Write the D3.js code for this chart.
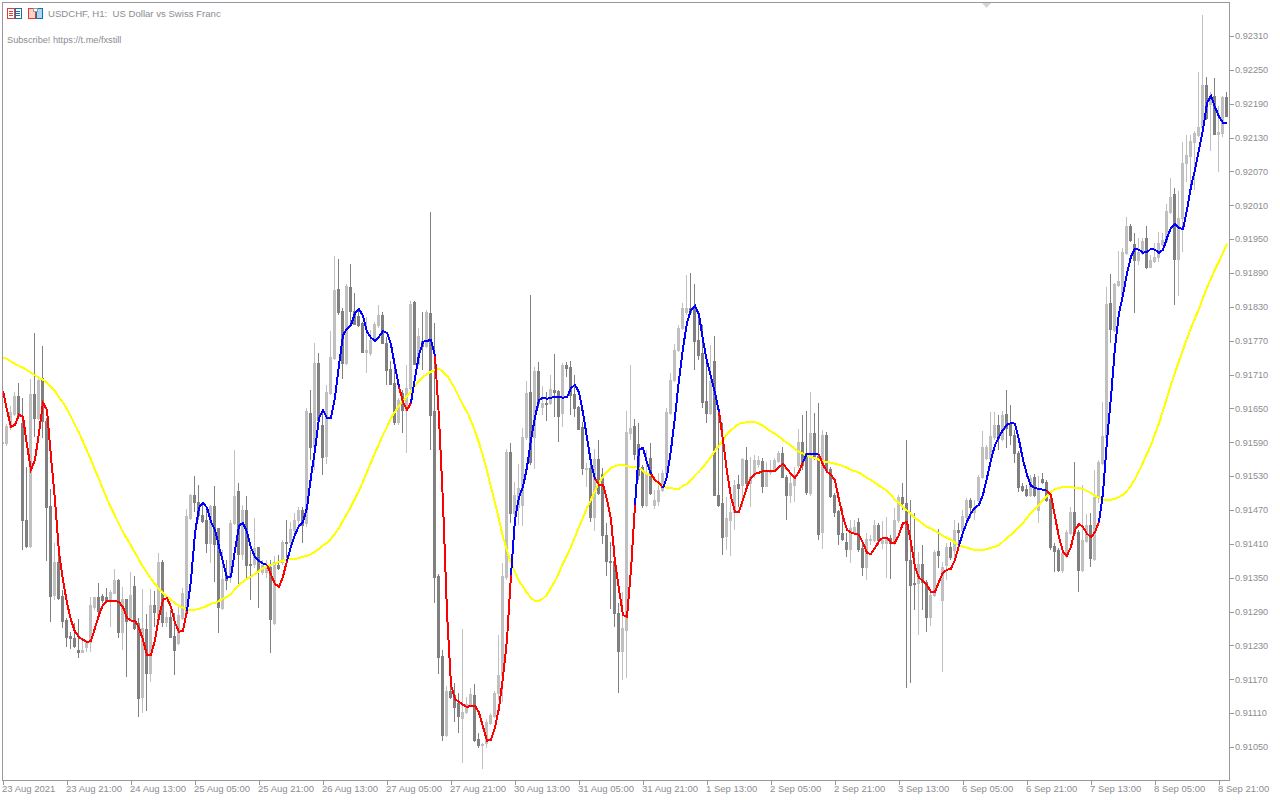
<!DOCTYPE html>
<html>
<head>
<meta charset="utf-8">
<title>USDCHF H1</title>
<script src="https://cdn.jsdelivr.net/npm/d3@7"></script>
<style>
html,body{margin:0;padding:0;background:#fff;overflow:hidden}
svg{display:block}
text{font-family:"Liberation Sans",Arial,sans-serif;fill:#8c8c92}
</style>
</head>
<body>
<svg id="chart" width="1280" height="800"></svg>
<script>
// All prices are in pipettes (1e-5 CHF): 91650 = 0.91650
const titleText = "USDCHF, H1:  US Dollar vs Swiss Franc";
const noteText = "Subscribe! https://t.me/fxstill";
const timeLabels = ["23 Aug 2021","23 Aug 21:00","24 Aug 13:00","25 Aug 05:00","25 Aug 21:00","26 Aug 13:00","27 Aug 05:00","27 Aug 21:00","30 Aug 13:00","31 Aug 05:00","31 Aug 21:00","1 Sep 13:00","2 Sep 05:00","2 Sep 21:00","3 Sep 13:00","6 Sep 05:00","6 Sep 21:00","7 Sep 13:00","8 Sep 05:00","8 Sep 21:00"];
const barsPerTimeLabel = 16;
const priceTicks = [91050,91110,91170,91230,91290,91350,91410,91470,91530,91590,91650,91710,91770,91830,91890,91950,92010,92070,92130,92190,92250,92310];

const opens = [
91589,91589,91617,91640,91672,91624,91453,91407,91676,91633,
91704,91628,91477,91320,91378,91318,91275,91247,91243,91222,
91219,91228,91236,91298,91316,91318,91316,91313,91323,91346,
91254,91313,91275,91336,91270,91139,91259,91181,91302,91281,
91378,91272,91281,91247,91235,91279,91290,91456,91497,91484,
91461,91453,91412,91477,91438,91297,91355,91352,91447,91504,
91392,91470,91375,91375,91405,91360,91360,91369,91270,91373,
91378,91414,91414,91435,91453,91470,91447,91642,91584,91731,
91621,91566,91678,91740,91862,91823,91731,91865,91823,91814,
91802,91750,91748,91771,91798,91816,91766,91720,91695,91626,
91678,91647,91686,91839,91729,91770,91761,91819,91646,91353,
91212,91072,91150,91142,91128,91102,91112,91123,91142,91064,
91054,91057,91093,91105,91146,91178,91352,91573,91465,91476,
91479,91600,91679,91600,91717,91653,91660,91660,91683,91681,
91642,91727,91724,91676,91653,91617,91543,91545,91458,91561,
91534,91426,91380,91380,91288,91220,91258,91607,91619,91587,
91546,91479,91562,91479,91486,91506,91536,91642,91701,91754,
91793,91821,91828,91830,91771,91748,91663,91642,91734,91497,
91483,91424,91453,91467,91516,91515,91559,91518,91536,91552,
91557,91513,91538,91541,91557,91571,91529,91497,91515,91550,
91591,91571,91500,91607,91566,91431,91603,91543,91497,91468,
91430,91414,91401,91431,91449,91403,91369,91417,91417,91444,
91412,91412,91421,91412,91453,91493,91483,91382,91341,91341,
91375,91343,91281,91320,91398,91311,91373,91405,91399,91435,
91435,91458,91488,91467,91488,91529,91562,91562,91600,91621,
91596,91640,91624,91603,91571,91513,91507,91497,91529,91470,
91525,91520,91490,91407,91399,91364,91389,91429,91467,91431,
91364,91415,91444,91383,91493,91554,91600,91837,91789,91869,
91851,91926,91974,91942,91913,91926,91952,91901,91911,91919,
91942,91947,91998,92030,91915,91988,92085,92098,92122,92135,
92149,92223,92190,92204,92137,92138,92202];

const highs = [
91594,91623,91655,91679,91695,91669,91546,91702,91784,91704,
91761,91633,91507,91412,91391,91329,91279,91254,91270,91277,
91240,91240,91316,91316,91341,91321,91332,91329,91366,91348,
91334,91313,91360,91353,91279,91330,91286,91330,91327,91394,
91382,91290,91293,91288,91298,91332,91472,91499,91531,91515,
91479,91477,91479,91513,91438,91399,91382,91453,91577,91518,
91479,91495,91399,91456,91405,91382,91382,91382,91389,91391,
91417,91453,91449,91465,91476,91476,91651,91683,91766,91748,
91647,91692,91787,91920,91915,91828,91871,91906,91855,91828,
91803,91812,91789,91803,91834,91821,91777,91734,91724,91669,
91683,91727,91841,91841,91793,91821,91825,91998,91802,91357,
91222,91158,91181,91164,91146,91259,91139,91155,91162,91075,
91057,91100,91111,91150,91249,91376,91578,91589,91520,91552,
91616,91699,91851,91724,91733,91690,91679,91710,91747,91683,
91731,91733,91734,91710,91655,91626,91554,91555,91578,91594,
91545,91447,91414,91408,91305,91325,91646,91727,91632,91624,
91550,91577,91589,91506,91536,91541,91651,91713,91764,91798,
91837,91887,91890,91871,91816,91798,91736,91763,91779,91642,
91624,91493,91483,91523,91532,91562,91582,91564,91568,91566,
91562,91555,91559,91562,91575,91582,91532,91536,91546,91614,
91639,91646,91679,91642,91660,91612,91609,91546,91500,91470,
91474,91430,91453,91453,91456,91417,91430,91426,91453,91447,
91451,91458,91426,91474,91497,91518,91594,91488,91465,91396,
91408,91346,91329,91399,91437,91378,91412,91414,91453,91447,
91470,91492,91492,91488,91532,91610,91585,91644,91644,91639,
91646,91683,91656,91612,91575,91518,91515,91532,91534,91531,
91536,91523,91493,91412,91403,91399,91435,91476,91555,91435,
91515,91463,91465,91541,91559,91662,91865,91888,91873,91929,
91935,91989,91977,91961,91952,91952,91974,91922,91943,91963,
91961,92013,92059,92041,92036,92122,92135,92135,92142,92246,
92347,92238,92211,92236,92186,92204,92211];

const lows = [
91585,91584,91612,91637,91633,91399,91403,91403,91600,91630,
91598,91380,91272,91311,91311,91261,91228,91224,91226,91208,
91217,91219,91219,91293,91284,91305,91309,91263,91321,91243,
91222,91174,91275,91258,91103,91110,91114,91165,91263,91275,
91263,91263,91243,91178,91231,91275,91284,91453,91467,91453,
91447,91394,91376,91343,91252,91293,91329,91341,91444,91337,
91382,91346,91311,91367,91297,91355,91350,91217,91267,91364,
91373,91378,91408,91426,91444,91412,91440,91559,91541,91612,
91532,91552,91674,91736,91816,91702,91727,91796,91798,91795,
91750,91713,91743,91768,91793,91764,91692,91692,91621,91621,
91607,91571,91683,91727,91725,91718,91757,91577,91305,91180,
91061,91068,91135,91095,91075,91022,91109,91121,91059,91049,
91011,91049,91089,91102,91134,91130,91346,91447,91435,91444,
91442,91594,91550,91543,91651,91639,91628,91656,91635,91591,
91617,91706,91639,91635,91612,91532,91511,91449,91433,91497,
91410,91353,91295,91263,91146,91169,91173,91594,91559,91523,
91474,91476,91497,91472,91477,91502,91532,91639,91697,91750,
91789,91816,91816,91718,91736,91651,91624,91639,91495,91476,
91391,91399,91389,91435,91476,91476,91502,91476,91527,91545,
91500,91511,91532,91539,91554,91527,91453,91483,91484,91545,
91541,91497,91495,91559,91417,91401,91538,91492,91458,91408,
91415,91387,91376,91426,91396,91353,91346,91408,91414,91408,
91401,91350,91348,91408,91447,91470,91155,91164,91293,91249,
91293,91254,91265,91316,91367,91183,91346,91382,91376,91405,
91431,91453,91456,91453,91484,91525,91559,91559,91594,91577,
91593,91580,91585,91554,91502,91502,91493,91493,91493,91447,
91516,91484,91399,91360,91360,91359,91385,91426,91426,91325,
91360,91412,91369,91380,91483,91550,91594,91766,91786,91865,
91848,91922,91945,91819,91904,91922,91897,91899,91908,91910,
91938,91943,91995,91833,91849,91927,92051,92043,92037,92131,
92145,92161,92106,92135,92069,92131,92167];

const closes = [
91591,91619,91644,91672,91637,91453,91407,91676,91633,91701,
91628,91476,91318,91378,91314,91274,91245,91243,91229,91219,
91222,91236,91302,91316,91291,91311,91311,91325,91346,91254,
91313,91274,91320,91261,91137,91261,91181,91302,91290,91378,
91272,91281,91245,91222,91284,91323,91460,91497,91484,91461,
91451,91412,91477,91410,91298,91348,91346,91447,91495,91392,
91470,91373,91373,91403,91362,91373,91369,91277,91378,91367,
91414,91412,91437,91453,91470,91444,91646,91582,91731,91630,
91564,91679,91741,91860,91821,91731,91867,91823,91800,91798,
91750,91754,91771,91800,91816,91766,91718,91694,91626,91665,
91647,91686,91835,91729,91779,91761,91821,91639,91352,91210,
91072,91150,91139,91121,91105,91112,91127,91144,91063,91054,
91056,91095,91107,91146,91178,91353,91573,91465,91497,91509,
91600,91678,91555,91717,91660,91660,91658,91685,91679,91637,
91727,91722,91674,91651,91614,91545,91545,91458,91561,91500,
91426,91380,91378,91288,91220,91261,91608,91616,91570,91532,
91479,91536,91500,91488,91506,91536,91644,91701,91754,91793,
91828,91828,91821,91770,91745,91662,91642,91699,91497,91479,
91422,91456,91467,91515,91509,91561,91518,91529,91559,91559,
91513,91541,91541,91559,91571,91529,91497,91518,91532,91591,
91550,91502,91607,91564,91428,91603,91541,91495,91467,91428,
91419,91401,91438,91440,91401,91369,91419,91419,91444,91417,
91417,91419,91412,91453,91493,91483,91382,91337,91339,91375,
91343,91281,91320,91396,91391,91369,91405,91387,91435,91431,
91460,91488,91476,91476,91529,91582,91582,91601,91621,91598,
91639,91616,91603,91571,91511,91506,91497,91527,91497,91509,
91520,91488,91405,91398,91364,91394,91431,91467,91429,91364,
91417,91444,91385,91493,91555,91601,91835,91791,91871,91876,
91927,91974,91949,91913,91927,91947,91901,91913,91919,91943,
91949,92000,92025,91915,91988,92085,92099,92124,92138,92149,
92223,92165,92204,92137,92140,92202,92168];

// Fast smoothed average (red while falling, blue while rising)
const fastMA = [
91681,91647,91617,91621,91639,91635,91585,91541,91559,91607,
91660,91647,91564,91488,91394,91346,91305,91275,91254,91245,
91240,91236,91238,91261,91284,91302,91309,91309,91309,91307,
91298,91279,91274,91274,91261,91240,91213,91213,91240,91281,
91311,91314,91298,91270,91254,91256,91291,91346,91429,91474,
91483,91474,91449,91435,91405,91378,91350,91352,91399,91442,
91447,91431,91403,91387,91380,91375,91373,91355,91339,91334,
91352,91380,91405,91426,91442,91449,91474,91529,91577,91633,
91647,91633,91633,91670,91727,91780,91791,91798,91819,91826,
91814,91786,91775,91770,91777,91787,91784,91763,91724,91688,
91662,91647,91660,91704,91745,91768,91770,91771,91743,91633,
91483,91288,91160,91135,91130,91125,91121,91123,91123,91111,
91086,91061,91063,91084,91119,91174,91240,91355,91453,91493,
91511,91546,91594,91635,91665,91669,91667,91669,91670,91670,
91669,91670,91686,91692,91678,91642,91598,91554,91525,91515,
91515,91488,91453,91378,91329,91284,91281,91364,91479,91577,
91580,91554,91534,91523,91518,91509,91529,91577,91635,91701,
91757,91802,91825,91832,91816,91771,91733,91706,91678,91644,
91594,91538,91493,91467,91467,91488,91511,91527,91534,91536,
91539,91539,91539,91539,91546,91552,91543,91534,91527,91538,
91555,91570,91570,91570,91568,91550,91538,91532,91523,91488,
91458,91435,91430,91428,91426,91412,91394,91392,91403,91415,
91421,91421,91412,91412,91426,91447,91449,91412,91369,91350,
91344,91337,91325,91325,91343,91359,91364,91366,91382,91407,
91430,91449,91465,91474,91479,91497,91527,91559,91585,91600,
91612,91621,91624,91623,91594,91559,91532,91513,91509,91507,
91506,91504,91497,91458,91422,91396,91389,91405,91435,91445,
91440,91428,91422,91431,91449,91500,91594,91670,91759,91819,
91851,91890,91919,91933,91931,91926,91927,91933,91931,91926,
91931,91952,91970,91977,91970,91968,92002,92043,92073,92108,
92144,92191,92204,92184,92167,92156,92156];

// Bar indices where the fast average changes colour; the first run is falling
const trendBreaks = [0,46,66,71,99,102,108,127,148,158,162,165,179,200,204,239,261,274,306];

// Slow smoothed average (yellow)
const slowMA = [
91740,91738,91733,91729,91725,91722,91718,91713,91709,91704,
91701,91695,91688,91681,91670,91660,91649,91635,91621,91607,
91591,91575,91559,91541,91525,91507,91490,91474,91460,91445,
91431,91419,91407,91394,91382,91369,91359,91348,91339,91330,
91323,91316,91311,91305,91300,91297,91293,91293,91293,91295,
91297,91300,91304,91305,91309,91313,91316,91321,91330,91337,
91343,91348,91352,91357,91362,91367,91369,91373,91375,91378,
91380,91383,91383,91383,91385,91387,91389,91392,91396,91401,
91407,91412,91419,91428,91438,91451,91463,91476,91490,91504,
91520,91538,91554,91571,91587,91603,91617,91633,91644,91655,
91663,91672,91679,91690,91699,91706,91711,91715,91718,91720,
91715,91708,91697,91685,91670,91656,91644,91628,91610,91589,
91566,91539,91511,91483,91453,91422,91398,91376,91360,91344,
91334,91323,91314,91309,91309,91313,91320,91332,91344,91359,
91375,91389,91405,91422,91440,91456,91474,91488,91504,91518,
91529,91538,91545,91548,91550,91550,91548,91546,91546,91545,
91539,91534,91532,91523,91516,91513,91509,91509,91507,91507,
91513,91516,91523,91531,91538,91546,91555,91564,91575,91584,
91594,91605,91612,91617,91623,91624,91626,91626,91626,91623,
91619,91614,91609,91605,91600,91594,91589,91584,91578,91573,
91570,91566,91564,91562,91559,91557,91555,91554,91552,91550,
91548,91545,91541,91539,91536,91532,91527,91523,91518,91513,
91509,91504,91497,91488,91483,91476,91469,91463,91456,91451,
91445,91440,91437,91433,91429,91424,91421,91417,91412,91408,
91405,91403,91401,91399,91399,91399,91401,91403,91405,91408,
91414,91421,91426,91433,91440,91447,91456,91465,91472,91479,
91488,91495,91502,91507,91509,91511,91511,91511,91509,91509,
91507,91504,91500,91495,91492,91488,91488,91488,91490,91493,
91497,91504,91513,91525,91539,91554,91570,91585,91605,91624,
91646,91669,91692,91713,91734,91754,91773,91793,91810,91826,
91846,91864,91880,91896,91910,91926,91942];

const upColor = "#c0c0c0", downColor = "#808080";
const frameColor = "#97979d";

const svg = d3.select("#chart");
const plot = {left: 2, top: 2, right: 1229, bottom: 780};
const x = d3.scaleLinear().domain([0, opens.length - 1]).range([2, 1226]);
const y = d3.scaleLinear().domain([91050, 92310]).range([747, 36]);
const px = v => Math.round(y(v));

svg.append("clipPath").attr("id", "plotClip").append("rect")
  .attr("x", plot.left).attr("y", plot.top)
  .attr("width", plot.right - plot.left).attr("height", plot.bottom - plot.top);

const bars = d3.range(opens.length).map(i => ({i, o: opens[i], h: highs[i], l: lows[i], c: closes[i]}));
const gPlot = svg.append("g").attr("clip-path", "url(#plotClip)").attr("shape-rendering", "crispEdges");
const col = d => d.c >= d.o ? upColor : downColor;

gPlot.selectAll("rect.wick").data(bars).join("rect").attr("class", "wick")
  .attr("x", d => x(d.i)).attr("width", 1)
  .attr("y", d => px(d.h)).attr("height", d => Math.max(1, px(d.l) - px(d.h)))
  .attr("fill", col);
gPlot.selectAll("rect.body").data(bars).join("rect").attr("class", "body")
  .attr("x", d => x(d.i) - 1).attr("width", 3)
  .attr("y", d => Math.min(px(d.o), px(d.c)))
  .attr("height", d => Math.max(1, Math.abs(px(d.o) - px(d.c)) + 1))
  .attr("fill", col);

const lineOf = arr => d3.line().x(i => x(i) + 1).y(i => y(arr[i]));
gPlot.append("path").attr("d", lineOf(slowMA)(d3.range(slowMA.length)))
  .attr("fill", "none").attr("stroke", "#ffff00").attr("stroke-width", 2);
d3.pairs(trendBreaks).forEach(([a, b], k) => {
  gPlot.append("path").attr("d", lineOf(fastMA)(d3.range(a, b + 1)))
    .attr("fill", "none").attr("stroke", k % 2 ? "#0000ff" : "#ff0000").attr("stroke-width", 2);
});

// Frame
svg.append("rect").attr("x", plot.left + .5).attr("y", plot.top + .5)
  .attr("width", plot.right - plot.left).attr("height", plot.bottom - plot.top)
  .attr("fill", "none").attr("stroke", frameColor);

// Axes
const yAxis = d3.axisRight(y).tickValues(priceTicks).tickSize(4).tickPadding(2)
  .tickFormat(v => (v / 100000).toFixed(5));
const gy = svg.append("g").attr("transform", `translate(${plot.right + .5},0)`).call(yAxis);
gy.select(".domain").remove();
gy.selectAll("line").attr("stroke", frameColor).attr("shape-rendering", "crispEdges");
gy.selectAll("text").attr("font-family", null).style("font-size", "9.2px").attr("x", 5.5).attr("dy", "0.3em");

const tickIdx = timeLabels.map((_, i) => i * barsPerTimeLabel);
const xAxis = d3.axisBottom(x).tickValues(tickIdx).tickSize(4).tickPadding(2)
  .tickFormat((_, i) => timeLabels[i]);
const gx = svg.append("g").attr("transform", `translate(0,${plot.bottom + .5})`).call(xAxis);
gx.select(".domain").remove();
gx.selectAll("line").attr("stroke", frameColor).attr("shape-rendering", "crispEdges").attr("transform", "translate(.5,0)");
gx.selectAll("text").attr("font-family", null).style("font-size", "9.5px")
  .attr("text-anchor", "start").attr("x", -0.5).attr("y", 4).attr("dy", "0.8em");

// Header icons and captions
const icons = svg.append("g").attr("shape-rendering", "crispEdges");
const box = (x0, y0, w, h, stroke, fill) => icons.append("rect")
  .attr("x", x0 + .5).attr("y", y0 + .5).attr("width", w).attr("height", h)
  .attr("fill", fill || "#fff").attr("stroke", stroke);
box(7, 8, 7, 10, "#e03c31");
box(15, 8, 6, 10, "#1a6fb0");
[11, 13, 15].forEach(v => {
  icons.append("rect").attr("x", 9).attr("y", v).attr("width", 4).attr("height", 1).attr("fill", "#e03c31");
  icons.append("rect").attr("x", 16).attr("y", v).attr("width", 4).attr("height", 1).attr("fill", "#1a6fb0");
});
box(28, 8, 7, 10, "#e03c31", "#fbd5cc");
box(36, 8, 6, 10, "#1a6fb0", "#aed8f2");
box(33, 8, 4, 3, "#9a9a9a", "#fff");

svg.append("text").attr("x", 48).attr("y", 17).style("font-size", "9.6px").style("white-space", "pre").text(titleText);
svg.append("text").attr("x", 7).attr("y", 43).style("font-size", "9.2px").text(noteText);

// Small marker under the top edge
svg.append("path").attr("d", d3.line()([[982, 3], [991, 3], [986.5, 8]])).attr("fill", "#d4d4d4");
</script>
</body>
</html>
